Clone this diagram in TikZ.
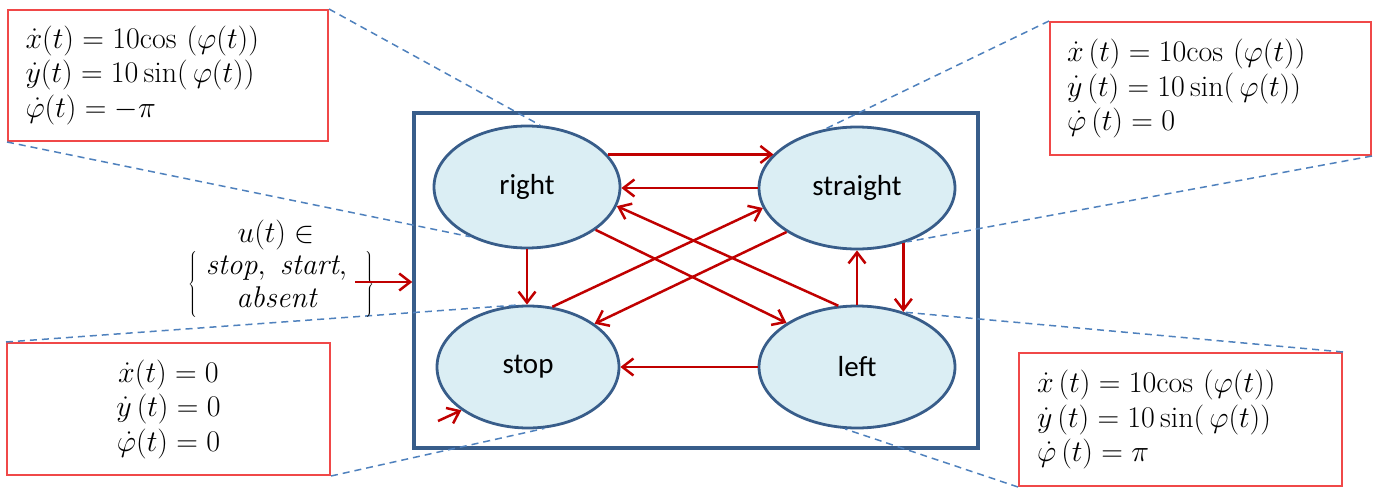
\RequirePackage{fix-cm}
\documentclass[tikz,border=0pt]{standalone}
\usepackage{fontspec}
\newfontfamily\carlito{Carlito}
\usetikzlibrary{arrows.meta,shapes.geometric}
\definecolor{sysblue}{HTML}{385D8A}
\definecolor{ellfill}{HTML}{DBEEF4}
\definecolor{arrred}{HTML}{C00000}
\definecolor{boxred}{HTML}{F04848}
\definecolor{dashblue}{HTML}{4F81BD}
\begin{document}
\begin{tikzpicture}[x=1pt,y=-1pt,
  stateell/.style={ellipse, draw=sysblue, line width=2.8pt, fill=ellfill, inner sep=0pt,
    font=\carlito\fontsize{29}{34}\selectfont},
  trans/.style={draw=arrred, line width=2.5pt, -{Straight Barb[length=11pt,width=17pt]}},
  eqbox/.style={draw=boxred, line width=2pt, inner sep=0pt, font=\fontsize{30}{34.5}\selectfont},
  callout/.style={draw=dashblue, line width=1.5pt, dash pattern=on 7pt off 5pt},
  mathtxt/.style={font=\fontsize{30}{33}\selectfont, inner sep=0pt}]
\useasboundingbox (0,0) rectangle (1374,490);

% equation boxes
\node[eqbox, minimum width=320pt, minimum height=131pt, text width=285pt, align=left] (eqR) at (168,75.5)
  {$\dot{x}(t) = 10\mathrm{cos}\ (\varphi(t))$\\ $\dot{y}(t) = 10\,\mathrm{sin}\bigl(\,\varphi(t)\bigr)$\\ $\dot{\varphi}(t) = -\pi$};
\node[eqbox, minimum width=321pt, minimum height=133pt, text width=287pt, align=left] (eqS) at (1210.5,88.5)
  {$\dot{x}\,(t) = 10\mathrm{cos}\ (\varphi(t))$\\ $\dot{y}\,(t) = 10\,\mathrm{sin}\bigl(\,\varphi(t)\bigr)$\\ $\dot{\varphi}\,(t) = 0$};
\node[eqbox, minimum width=323pt, minimum height=132pt, align=center] (eqP) at (168.5,409)
  {$\dot{x}(t) = 0$\\ $\dot{y}\,(t) = 0$\\ $\dot{\varphi}(t) = 0$};
\node[eqbox, minimum width=323pt, minimum height=133pt, text width=287pt, align=left] (eqL) at (1180.5,419.5)
  {$\dot{x}\,(t) = 10\mathrm{cos}\ (\varphi(t))$\\ $\dot{y}\,(t) = 10\,\mathrm{sin}\bigl(\,\varphi(t)\bigr)$\\ $\dot{\varphi}\,(t) = \pi$};

% system frame
\node[draw=sysblue, line width=3.5pt, minimum width=564pt, minimum height=335pt, inner sep=0pt] (sys) at (696,280.5) {};

% states
\node[stateell, minimum width=186pt, minimum height=122pt] (right) at (527,187) {right};
\node[stateell, minimum width=196pt, minimum height=122pt] (straight) at (857,188) {straight};
\node[stateell, minimum width=182pt, minimum height=122pt] (stop) at (528,367) {stop};
\node[stateell, minimum width=196pt, minimum height=122pt] (left) at (857,367) {left};

% callout lines
\draw[callout] (eqR.north east) -- (right.78);
\draw[callout] (eqR.south west) -- (right.221);
\draw[callout] (eqS.north west) -- (straight.118);
\draw[callout] (eqS.south east) -- (straight.-47);
\draw[callout] (eqP.north west) -- (stop.98);
\draw[callout] (eqP.south east) -- (stop.-75);
\draw[callout] (eqL.north east) -- (left.49);
\draw[callout] (eqL.south west) -- (left.-101);

% transitions
\draw[trans] (right.22) -- (straight.158.5 |- right.22);
\draw[trans] (straight.west) -- (right.east |- straight.west);
\draw[trans] (left.107.4) -- (right.-12.3);
\draw[trans] (right.-32.7) -- (left.148.2);
\draw[trans] (stop.68) -- (straight.-168.7);
\draw[trans] (straight.-148.2) -- (stop.33.7);
\draw[trans] (right.south) -- (right.south |- stop.north);
\draw[trans] (left.north) -- (straight.south);
\draw[trans] (straight.-50.2) -- (straight.-50.2 |- left.50.7);
\draw[trans] (left.west) -- (stop.east);
\coordinate (init) at (438,421);
\draw[trans] (init) -- (stop.213);

% input
\node[mathtxt] (ulabel) at (276,235) {$u(t)\in$};
\node[mathtxt] (uset) at (281,284)
  {$\left\{\begin{array}{@{\ }c@{\ \ }}\mathit{stop},\ \mathit{start},\\ \mathit{absent}\end{array}\right\}$};
\coordinate (uin) at (355,282);
\draw[trans] (uin) -- (uin -| sys.west);
\end{tikzpicture}
\end{document}
